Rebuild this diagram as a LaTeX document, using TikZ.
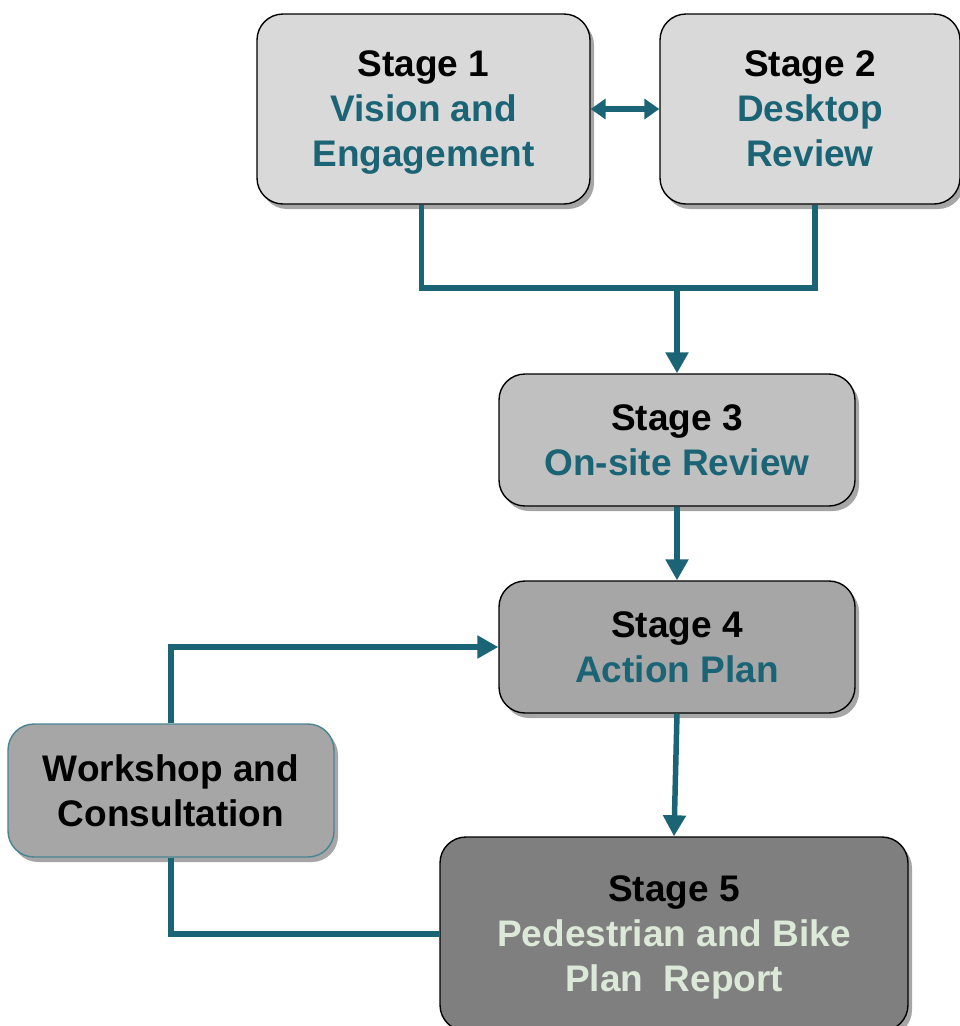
\documentclass[tikz,border=0pt]{standalone}
\usepackage{fontspec}
\setmainfont{Liberation Sans}
\usetikzlibrary{arrows.meta,shadows,calc}
\definecolor{teal1}{HTML}{1B6475}
\definecolor{sub5}{HTML}{DCE8D8}
\definecolor{f1}{HTML}{D9D9D9}
\definecolor{f3}{HTML}{C0C0C0}
\definecolor{f4}{HTML}{A6A6A6}
\definecolor{f5}{HTML}{7F7F7F}
\tikzset{
  stagebox/.style={draw=black, line width=1.4pt, rounded corners=26pt, align=center,
    font=\fontsize{37}{45}\selectfont\bfseries, inner sep=0pt, text depth=0pt,
    drop shadow={shadow xshift=4pt, shadow yshift=-5pt, opacity=0.35, fill=black}},
  conn/.style={draw=teal1, line width=5.5pt},
  arr/.style={conn, -{Triangle[length=21pt,width=22pt]}},
  dbl/.style={conn, {Triangle[length=15pt,width=20pt]}-{Triangle[length=15pt,width=20pt]}},
}
\begin{document}
\begin{tikzpicture}[x=1pt,y=1pt]
\useasboundingbox (0,0) rectangle (960,-1026);
\node[stagebox, fill=f1, minimum width=333pt, minimum height=190pt] (S1) at (423.5,-109)
  {Stage 1\\ \textcolor{teal1}{Vision~and}\\ \textcolor{teal1}{Engagement}};
\node[stagebox, fill=f1, minimum width=300pt, minimum height=190pt] (S2) at (810,-109)
  {Stage 2\\ \textcolor{teal1}{Desktop}\\ \textcolor{teal1}{Review}};
\node[stagebox, fill=f3, minimum width=356pt, minimum height=132pt] (S3) at (677,-440)
  {Stage 3\\ \textcolor{teal1}{On-site~Review}};
\node[stagebox, fill=f4, minimum width=356pt, minimum height=132pt] (S4) at (677,-647)
  {Stage 4\\ \textcolor{teal1}{Action Plan}};
\node[stagebox, fill=f4, draw=teal1!80, minimum width=326pt, minimum height=133pt] (W) at (171,-790.5)
  {Workshop and\\ Consultation};
\node[stagebox, fill=f5, minimum width=468pt, minimum height=194pt] (S5) at (674,-934)
  {Stage 5\\ \textcolor{sub5}{Pedestrian and Bike}\\ \textcolor{sub5}{Plan~~Report}};
\coordinate (J) at (677,-288);
\draw[conn] ([xshift=-2pt]S1.south) |- (J) -| ([xshift=5pt]S2.south);
\draw[arr] (J) -- (S3.north);
\draw[dbl] (S1.east) -- (S2.west);
\draw[arr] (S3.south) -- (S4.north);
\draw[arr] (S4.south) -- (S5.north);
\draw[arr] (W.north) |- (S4.west);
\draw[conn] (S5.west) -| (W.south);
\end{tikzpicture}
\end{document}
